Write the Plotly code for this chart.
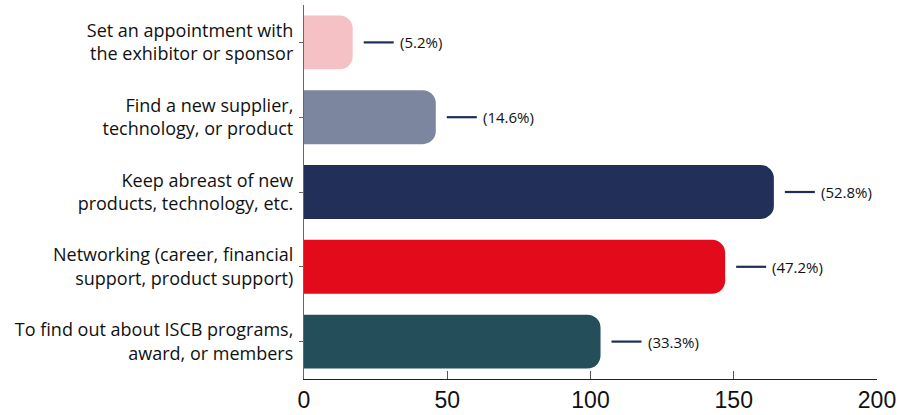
import plotly.graph_objects as go

categories = [
    "Set an appointment with<br>the exhibitor or sponsor",
    "Find a new supplier,<br>technology, or product",
    "Keep abreast of new<br>products, technology, etc.",
    "Networking (career, financial<br>support, product support)",
    "To find out about ISCB programs,<br>award, or members",
]
counts = [17, 46, 164, 147, 103.5]
pct_labels = ["(5.2%)", "(14.6%)", "(52.8%)", "(47.2%)", "(33.3%)"]
colors = ["#f5c1c4", "#7d869f", "#222f58", "#e30a1c", "#234e5a"]
x_ticks = [0, 50, 100, 150, 200]

fig = go.Figure()
fig.add_trace(go.Bar(
    x=counts, y=categories, orientation="h",
    marker=dict(color=colors, cornerradius=13, line=dict(width=0)),
    hoverinfo="skip",
))

for i, (v, lab) in enumerate(zip(counts, pct_labels)):
    fig.add_shape(type="line", xref="x", yref="y", xsizemode="pixel",
                  xanchor=v, x0=11, x1=41, y0=categories[i], y1=categories[i],
                  line=dict(color="#1f2c58", width=2.2))
    fig.add_annotation(x=v, y=categories[i], text=lab, showarrow=False,
                       xanchor="left", xshift=45,
                       font=dict(family="Open Sans, DejaVu Sans", size=15,
                                 color="#111", weight=500))

fig.update_layout(
    width=903, height=415,
    margin=dict(l=304, r=26, t=5, b=36),
    paper_bgcolor="white", plot_bgcolor="white",
    bargap=0.28,
    showlegend=False,
    xaxis=dict(range=[0, 200], tickvals=x_ticks, ticks="inside", ticklen=8,
               tickcolor="#555", showline=True, linecolor="#222", linewidth=1.2,
               showgrid=False, zeroline=False, automargin=False,
               tickfont=dict(family="Liberation Sans, Arial", size=23, color="#111")),
    yaxis=dict(categoryorder="array", categoryarray=categories[::-1],
               ticks="outside", ticklen=4, tickcolor="#666",
               showline=True, linecolor="#666", linewidth=1.2,
               showgrid=False, zeroline=False, ticklabelstandoff=2, automargin=False,
               tickfont=dict(family="Open Sans, DejaVu Sans", size=18,
                             color="#111", weight=500)),
)

fig.write_html(
    "out.html",
    config={"displayModeBar": False},
    post_script="document.body.style.margin='0';document.body.style.overflow='hidden';",
)
